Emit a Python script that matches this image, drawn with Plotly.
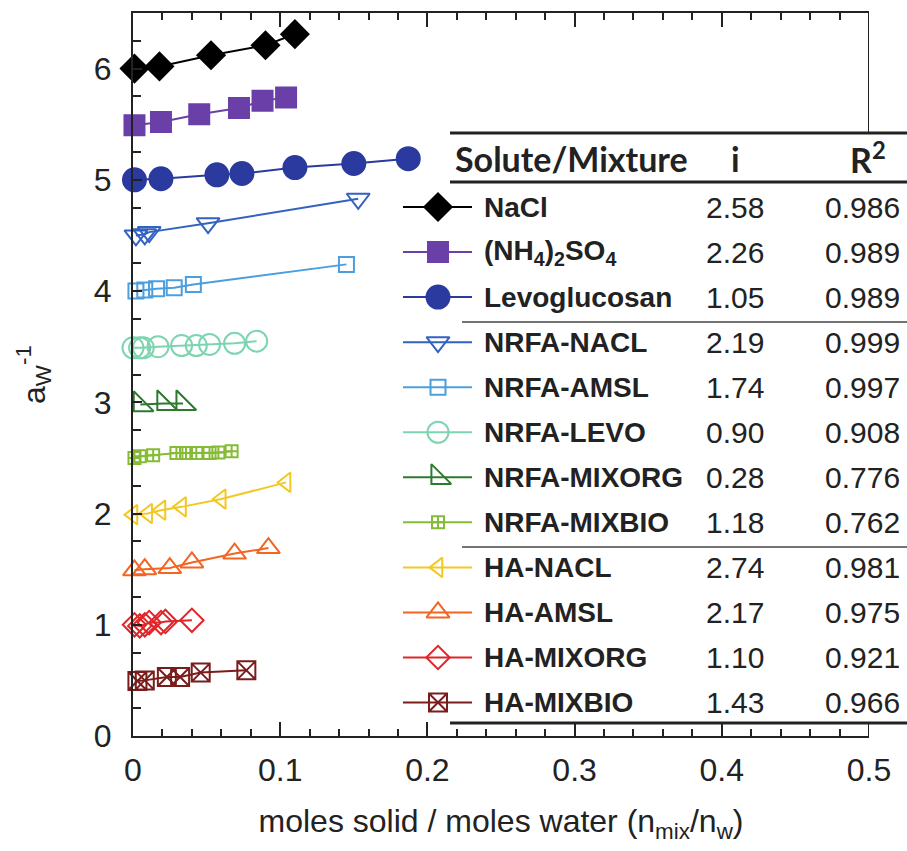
import plotly.graph_objects as go

# ---------------- data ----------------
nacl_x = [0.001, 0.018, 0.053, 0.090, 0.110]
nacl_y = [6.00, 6.02, 6.12, 6.21, 6.31]

as_x = [0.001, 0.019, 0.045, 0.072, 0.088, 0.104]
as_y = [5.49, 5.52, 5.59, 5.645, 5.71, 5.74]

levo_x = [0.001, 0.019, 0.057, 0.074, 0.110, 0.150, 0.187]
levo_y = [5.00, 5.01, 5.045, 5.057, 5.11, 5.147, 5.19]

nrfa_nacl_x = [0.002, 0.008, 0.011, 0.051, 0.153]
nrfa_nacl_y = [4.50, 4.51, 4.53, 4.61, 4.83]

nrfa_amsl_x = [0.002, 0.008, 0.016, 0.028, 0.041, 0.145]
nrfa_amsl_y = [4.00, 4.01, 4.02, 4.03, 4.06, 4.24]

nrfa_levo_x = [0.000, 0.0045, 0.007, 0.017, 0.033, 0.043, 0.052, 0.069, 0.084]
nrfa_levo_y = [3.49, 3.49, 3.49, 3.50, 3.51, 3.51, 3.52, 3.53, 3.55]

nrfa_mixorg_x = [0.005, 0.021, 0.034]
nrfa_mixorg_y = [2.98, 2.99, 2.99]

nrfa_mixbio_x = [0.001, 0.0046, 0.0137, 0.0295, 0.036, 0.043, 0.052, 0.058, 0.067]
nrfa_mixbio_y = [2.50, 2.515, 2.525, 2.545, 2.545, 2.545, 2.545, 2.548, 2.56]

ha_nacl_x = [0.000, 0.010, 0.019, 0.033, 0.060, 0.104]
ha_nacl_y = [1.99, 2.00, 2.03, 2.06, 2.13, 2.28]

ha_amsl_x = [0.001, 0.008, 0.025, 0.040, 0.069, 0.092]
ha_amsl_y = [1.49, 1.50, 1.51, 1.56, 1.64, 1.69]

ha_mixorg_x = [0.001, 0.0046, 0.008, 0.011, 0.019, 0.022, 0.040]
ha_mixorg_y = [1.00, 0.99, 1.00, 1.02, 1.02, 1.03, 1.04]

ha_mixbio_x = [0.003, 0.008, 0.023, 0.032, 0.046, 0.077]
ha_mixbio_y = [0.495, 0.50, 0.53, 0.53, 0.57, 0.59]

labels = ["NaCl", "(NH<sub>4</sub>)<sub>2</sub>SO<sub>4</sub>", "Levoglucosan",
          "NRFA-NACL", "NRFA-AMSL", "NRFA-LEVO", "NRFA-MIXORG", "NRFA-MIXBIO",
          "HA-NACL", "HA-AMSL", "HA-MIXORG", "HA-MIXBIO"]
i_values = ["2.58", "2.26", "1.05", "2.19", "1.74", "0.90", "0.28", "1.18",
            "2.74", "2.17", "1.10", "1.43"]
r2_values = ["0.986", "0.989", "0.989", "0.999", "0.997", "0.908", "0.776", "0.762",
             "0.981", "0.975", "0.921", "0.966"]

xs = [nacl_x, as_x, levo_x, nrfa_nacl_x, nrfa_amsl_x, nrfa_levo_x, nrfa_mixorg_x,
      nrfa_mixbio_x, ha_nacl_x, ha_amsl_x, ha_mixorg_x, ha_mixbio_x]
ys = [nacl_y, as_y, levo_y, nrfa_nacl_y, nrfa_amsl_y, nrfa_levo_y, nrfa_mixorg_y,
      nrfa_mixbio_y, ha_nacl_y, ha_amsl_y, ha_mixorg_y, ha_mixbio_y]

# ---------------- styles ----------------
colors = ["#000000", "#6A40A8", "#2B3A9E", "#3462C0", "#4C9FDF", "#7DD4B0",
          "#2C7A2E", "#86BC35", "#F4C823", "#F26522", "#E0262A", "#7B1C1C"]
symbols = ["diamond", "square", "circle", "triangle-down-open", "square-open",
           "circle-open", "triangle-sw-open", "square-cross-open",
           "triangle-left-open", "triangle-up-open", "diamond-open", "square-x-open"]
sizes = [21, 20, 23, 20, 15, 21, 22, 12, 17, 20, 18, 18]

FONT = "Liberation Sans, Arial, sans-serif"
TXT = "#222222"

fig = go.Figure()

for k in range(len(labels)):
    fig.add_trace(go.Scatter(
        x=xs[k], y=ys[k], mode="lines+markers",
        line=dict(color=colors[k], width=2),
        marker=dict(symbol=symbols[k], size=sizes[k], color=colors[k],
                    line=dict(color=colors[k], width=2)),
        showlegend=False, xaxis="x", yaxis="y", cliponaxis=False))

# ---------------- table (inset axes) ----------------
W, H = 907, 851
ML, MR, MT, MB = 133, 0, 13, 115
pw = W - ML - MR
ph = H - MT - MB
plot_right_px = 869


def px_x(p):
    return (p - ML) / pw


def px_y(p):
    return (H - MB - p) / ph


row_top_px, row_step_px = 207, 45.05


def row_of(p):
    return 1 + (p - row_top_px) / row_step_px


tab_dom_top, tab_dom_bot = 125, 730
glyph_x0, glyph_xm, glyph_x1 = 403, 438, 472
name_x, i_x, r2_x = 482, 735, 902

for k in range(len(labels)):
    r = k + 1
    fig.add_trace(go.Scatter(
        x=[glyph_x0, glyph_x1], y=[r, r], mode="lines",
        line=dict(color=colors[k], width=2), showlegend=False,
        xaxis="x2", yaxis="y2", hoverinfo="skip"))
    fig.add_trace(go.Scatter(
        x=[glyph_xm], y=[r], mode="markers",
        marker=dict(symbol=symbols[k], size=sizes[k], color=colors[k],
                    line=dict(color=colors[k], width=2)),
        showlegend=False, xaxis="x2", yaxis="y2", hoverinfo="skip"))

annotations = []
for k in range(len(labels)):
    r = k + 1
    annotations.append(dict(x=name_x, y=r, xref="x2", yref="y2", text="<b>" + labels[k] + "</b>",
                            showarrow=False, xanchor="left", yanchor="middle",
                            font=dict(family=FONT, size=28, color=TXT)))
    annotations.append(dict(x=i_x, y=r, xref="x2", yref="y2", text=i_values[k],
                            showarrow=False, xanchor="center", yanchor="middle",
                            font=dict(family=FONT, size=30, color=TXT)))
    annotations.append(dict(x=r2_x, y=r, xref="x2", yref="y2", text=r2_values[k],
                            showarrow=False, xanchor="right", yanchor="middle",
                            font=dict(family=FONT, size=30, color=TXT)))

hdr_font = dict(family="Lato, Open Sans, sans-serif", size=34, color=TXT)
hdr_row = row_of(158)
annotations.append(dict(x=453, y=hdr_row, xref="x2", yref="y2", text="<b>Solute/Mixture</b>",
                        showarrow=False, xanchor="left", yanchor="middle", font=hdr_font))
annotations.append(dict(x=i_x, y=hdr_row, xref="x2", yref="y2", text="<b>i</b>",
                        showarrow=False, xanchor="center", yanchor="middle", font=hdr_font))
annotations.append(dict(x=868, y=hdr_row, xref="x2", yref="y2", text="<b>R<sup>2</sup></b>",
                        showarrow=False, xanchor="center", yanchor="middle", font=hdr_font))

shapes = []
for (x0, ypx, w, c) in [(450, 133, 3, TXT), (450, 182, 3, TXT),
                        (462, 322, 1.5, "#444444"), (462, 547, 1.5, "#444444"),
                        (450, 723, 3, TXT)]:
    shapes.append(dict(type="line", xref="x2", yref="y2", x0=x0, x1=907,
                       y0=row_of(ypx), y1=row_of(ypx), line=dict(color=c, width=w)))

# right border of main plot (hidden behind the table)
y_unit_px = ph / 6.5
y_tab_top = (H - MB - 133) / y_unit_px
y_tab_bot = (H - MB - 723) / y_unit_px
shapes.append(dict(type="line", xref="x", yref="y", x0=0.5, x1=0.5, y0=y_tab_top, y1=6.5,
                   line=dict(color=TXT, width=2)))
shapes.append(dict(type="line", xref="x", yref="y", x0=0.5, x1=0.5, y0=0, y1=y_tab_bot,
                   line=dict(color=TXT, width=2)))

fig.update_layout(
    width=W, height=H,
    margin=dict(l=ML, r=MR, t=MT, b=MB),
    plot_bgcolor="rgba(0,0,0,0)", paper_bgcolor="white",
    font=dict(family=FONT, color=TXT),
    xaxis=dict(domain=[0, px_x(plot_right_px)], range=[0, 0.5], dtick=0.1, tick0=0,
               ticks="inside", ticklen=14, tickwidth=2, tickcolor=TXT,
               showline=True, linewidth=2, linecolor=TXT, mirror="ticks",
               showgrid=False, zeroline=False, automargin=False,
               tickfont=dict(size=32, family=FONT, color=TXT),
               tickformat="~g", ticklabelstandoff=5,
               minor=dict(dtick=0.02, tick0=0, ticks="inside", ticklen=7, tickwidth=1.5,
                          tickcolor=TXT, showgrid=False),
               title=dict(text="moles solid / moles water (n<sub>mix</sub>/n<sub>w</sub>)",
                          font=dict(size=32, family=FONT, color=TXT), standoff=22)),
    yaxis=dict(domain=[0, 1], range=[0, 6.5], dtick=1, tick0=0,
               ticks="inside", ticklen=9, tickwidth=2, tickcolor=TXT,
               showline=True, linewidth=2, linecolor=TXT, mirror=False,
               showgrid=False, zeroline=False, automargin=False,
               tickfont=dict(size=32, family=FONT, color=TXT), ticklabelstandoff=13,
               minor=dict(dtick=0.5, tick0=0.25, ticks="inside", ticklen=8, tickwidth=1.5,
                          tickcolor=TXT, showgrid=False),
               title=dict(text="a<sub>W</sub><sup>-1</sup>",
                          font=dict(size=32, family=FONT, color=TXT), standoff=39)),
    xaxis2=dict(domain=[px_x(395), 1], range=[395, 907], visible=False, anchor="y2",
                automargin=False),
    yaxis2=dict(domain=[px_y(tab_dom_bot), px_y(tab_dom_top)],
                range=[row_of(tab_dom_bot), row_of(tab_dom_top)], visible=False, anchor="x2",
                automargin=False),
    annotations=annotations,
    shapes=shapes,
    showlegend=False,
)

fig.write_html(
    "out.html",
    config={"displayModeBar": False, "responsive": False},
    post_script=("document.documentElement.style.margin='0';"
                 "document.documentElement.style.overflow='hidden';"
                 "document.body.style.margin='0';document.body.style.overflow='hidden';"),
)
